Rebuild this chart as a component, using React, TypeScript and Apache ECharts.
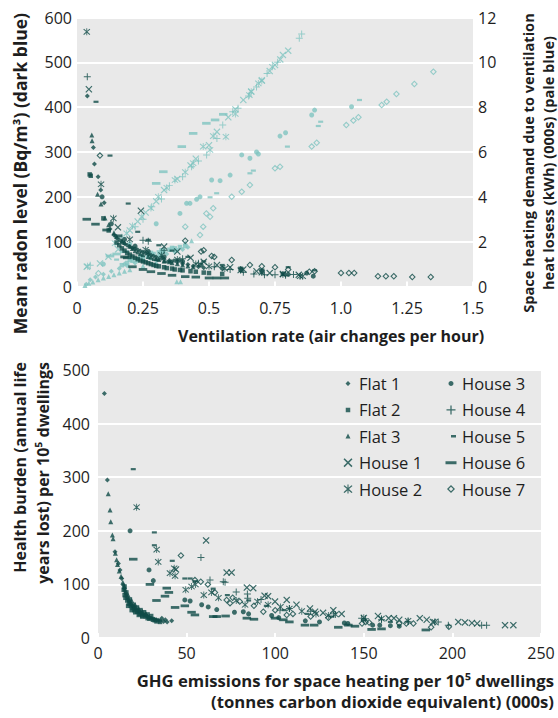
import React, { useEffect, useRef } from 'react';
import * as echarts from 'echarts';

// ---------- DATA ----------
// Top chart, dark series: mean radon level (Bq/m3) vs ventilation rate (ach)
const flat1Radon = [[0.039,425],[0.062,310],[0.066,273],[0.08,245],[0.09,215],[0.103,187],[0.125,128],[0.14,115],[0.16,104],[0.18,96],[0.2,89],[0.22,84],[0.24,79],[0.26,74],[0.28,70],[0.3,66],[0.33,61],[0.36,56],[0.4,51],[0.44,46],[0.48,42],[0.15,108],[0.17,100],[0.19,92],[0.21,86],[0.23,82],[0.25,77],[0.27,72],[0.29,68],[0.32,63],[0.35,58],[0.38,54],[0.42,49],[0.46,44]];
const flat2Radon = [[0.048,250],[0.052,247],[0.1,152],[0.12,125],[0.15,98],[0.17,85],[0.19,75],[0.21,67],[0.23,61],[0.25,56],[0.27,52],[0.29,48],[0.31,45],[0.34,41],[0.37,38],[0.4,36],[0.45,33],[0.5,30],[0.55,28],[0.16,92],[0.18,80],[0.2,71],[0.22,64],[0.24,58],[0.26,54],[0.28,50],[0.3,46],[0.33,43],[0.36,40],[0.39,37],[0.43,34],[0.48,31]];
const flat3Radon = [[0.056,338],[0.057,325],[0.078,206],[0.091,184],[0.106,153],[0.12,138],[0.14,120],[0.17,102],[0.2,90],[0.22,80],[0.24,73],[0.27,67],[0.3,62],[0.33,57],[0.36,53],[0.4,48],[0.44,44],[0.15,112],[0.18,98],[0.21,85],[0.23,77],[0.25,71],[0.28,65],[0.31,60],[0.35,55],[0.38,51],[0.42,46]];
const house1Radon = [[0.045,440],[0.155,132],[0.242,169],[0.33,89],[0.38,78],[0.43,64],[0.48,55],[0.53,48],[0.58,43],[0.63,38],[0.68,34],[0.73,30],[0.78,28],[0.84,26]];
const house2Radon = [[0.037,568],[0.091,228],[0.138,152],[0.2,105],[0.26,82],[0.32,70],[0.38,60],[0.45,50],[0.5,45],[0.56,40],[0.62,36],[0.7,31],[0.78,27],[0.845,23],[0.855,23]];
const house3Radon = [[0.095,200],[0.13,140],[0.18,105],[0.22,90],[0.27,78],[0.33,66],[0.4,56],[0.47,48],[0.55,41],[0.62,37],[0.7,33],[0.78,28],[0.8,27],[0.87,30],[0.895,23]];
const house4Radon = [[0.039,468],[0.25,103],[0.27,101],[0.33,80],[0.4,62],[0.46,52],[0.52,44],[0.58,38],[0.63,32],[0.67,28],[0.71,26],[0.75,26],[0.79,25],[0.82,27]];
const house5Radon = [[0.072,412],[0.125,292],[0.194,185],[0.23,122],[0.27,104],[0.31,92],[0.36,80],[0.42,66],[0.48,56],[0.55,48],[0.62,42],[0.7,38],[0.8,43],[0.9,36]];
const house6Radon = [[0.037,150],[0.07,139],[0.112,126],[0.156,113],[0.18,66],[0.19,64],[0.21,44],[0.25,38],[0.28,33],[0.32,29],[0.36,25],[0.41,22],[0.45,21],[0.5,19],[0.53,19],[0.56,19],[0.3,60],[0.34,55],[0.38,59]];
const house7Radon = [[0.087,292],[0.41,102],[0.47,78],[0.48,81],[0.51,68],[0.52,66],[0.586,59],[0.655,48],[0.7,45],[0.75,43],[0.8,38],[0.88,33],[0.9,34],[1.0,30],[1.03,30],[1.05,30],[1.14,23],[1.17,23],[1.2,23],[1.27,21],[1.34,21]];

// Top chart, pale series: space heating demand (kWh 000s) vs ventilation rate
const flat1Heat = [[0.035,0.1],[0.05,0.3],[0.07,0.42],[0.1,0.55],[0.13,0.68],[0.16,0.8],[0.19,0.93],[0.22,1.05],[0.25,1.15],[0.28,1.25],[0.31,1.35],[0.34,1.45],[0.37,1.55],[0.4,1.65],[0.42,1.75],[0.18,1.0],[0.23,1.15],[0.27,1.3],[0.32,1.45],[0.38,1.62]];
const flat2Heat = [[0.17,0.95],[0.19,1.05],[0.21,1.15],[0.23,1.22],[0.25,1.3],[0.27,1.38],[0.29,1.45],[0.31,1.52],[0.33,1.58],[0.35,1.64],[0.37,1.7],[0.39,1.76],[0.41,1.8],[0.2,1.2],[0.24,1.36],[0.28,1.5],[0.32,1.62],[0.36,1.72]];
const flat3Heat = [[0.03,0.05],[0.045,0.15],[0.06,0.2],[0.08,0.3],[0.1,0.38],[0.12,0.45],[0.14,0.52],[0.16,0.6],[0.18,0.68],[0.2,0.75],[0.25,0.92],[0.3,1.08],[0.378,0.21],[0.392,0.21],[0.41,1.95],[0.434,2.04]];
const house1Heat = [[0.037,0.88],[0.087,1.03],[0.119,1.33],[0.156,1.66],[0.2,2.5],[0.23,2.9],[0.26,3.3],[0.3,3.8],[0.33,4.3],[0.38,4.8],[0.43,5.4],[0.45,5.7],[0.5,6.3],[0.53,6.9],[0.573,7.55],[0.6,7.9],[0.63,8.32],[0.66,8.7],[0.7,9.2],[0.73,9.61],[0.75,9.88],[0.77,10.13],[0.78,10.33],[0.8,10.52]];
const house2Heat = [[0.04,0.9],[0.144,1.93],[0.188,2.37],[0.21,2.7],[0.245,3.11],[0.28,3.5],[0.308,4.0],[0.34,4.4],[0.371,4.75],[0.41,5.1],[0.44,5.5],[0.478,6.24],[0.504,6.09],[0.516,6.71],[0.564,6.68],[0.6,7.7],[0.653,8.54],[0.66,8.69],[0.687,9.06],[0.7,9.17],[0.74,9.8]];
const house3Heat = [[0.1,1.0],[0.2,1.9],[0.3,2.8],[0.39,3.26],[0.415,3.71],[0.428,3.71],[0.453,3.89],[0.466,4.0],[0.51,4.75],[0.542,4.72],[0.58,4.97],[0.624,5.87],[0.655,5.72],[0.68,6.0],[0.687,5.91],[0.769,6.71],[0.79,6.86],[0.889,7.65],[0.9,7.87],[1.04,8.02]];
const house4Heat = [[0.05,0.95],[0.17,2.2],[0.22,2.67],[0.25,3.0],[0.283,3.56],[0.32,3.9],[0.35,4.5],[0.4,4.9],[0.434,5.34],[0.46,5.6],[0.491,5.87],[0.53,6.6],[0.552,7.2],[0.59,7.8],[0.61,7.95],[0.65,8.5],[0.68,8.9],[0.72,9.5],[0.76,10.0],[0.842,11.07],[0.851,11.26]];
const house5Heat = [[0.15,1.2],[0.504,3.98],[0.529,4.16],[0.655,5.05],[0.668,5.17],[0.797,6.24],[0.914,7.16],[0.923,7.35],[1.07,8.32]];
const house6Heat = [[0.125,1.36],[0.15,1.45],[0.18,1.55],[0.3,4.6],[0.327,5.12],[0.397,6.24],[0.44,6.83],[0.49,7.28],[0.523,7.43],[0.554,7.68]];
const house7Heat = [[0.081,0.59],[0.41,2.67],[0.466,2.3],[0.478,2.67],[0.504,3.11],[0.49,3.26],[0.516,3.49],[0.586,4.0],[0.624,4.23],[0.655,4.53],[0.75,5.27],[0.769,5.34],[0.889,6.24],[0.908,6.41],[1.02,7.2],[1.047,7.4],[1.066,7.55],[1.154,8.1],[1.173,8.24],[1.21,8.59],[1.278,9.03],[1.35,9.58]];

// Bottom chart: health burden (life years lost per 1e5 dwellings) vs GHG emissions (t CO2e, 000s)
const flat1Burden = [[3.6,456],[5.3,295],[9.6,161],[11.5,139],[12.4,127],[13.4,111],[14.3,99],[15.2,88],[16,80],[17,72],[18,66],[19.5,60],[21,55],[22.5,51],[24,47],[26,43],[28,40],[30,37],[32,35],[34,33],[36,37],[38,34],[41.6,32],[14.8,93],[15.6,84],[16.5,76],[17.5,69],[18.5,63],[20,58],[21.5,53],[23,49],[25,45],[27,42],[29,38],[31,36],[33,34],[35,32],[37,31],[39,30]];
const flat2Burden = [[14.5,90],[15,80],[15.5,75],[16.5,70],[17.5,64],[18.5,60],[19.5,56],[20.5,52],[22,49],[23.5,45],[25,42],[27,40],[29,36],[31,34],[33,31],[15,96],[16,85],[18,72],[20,62],[22,57],[24,52],[26,48],[28,44],[30,41],[17,60],[19,52],[21,48],[23,43],[25,40],[28,37],[32,33],[35,30]];
const flat3Burden = [[5.8,269],[6.8,239],[7.2,217],[8.1,192],[8.5,185],[9.8,158],[10.5,146],[11,137],[12,125],[13,115],[14,104],[15,95],[17,80],[19,70],[21,62],[23,55],[25,50],[27,46]];
const house1Burden = [[44,128],[61,182],[72.6,122],[75.4,122],[84,94],[87.6,93],[94,79],[96,78],[99.9,68],[106.5,71],[112,62],[119.6,55],[122.5,49],[127,47],[132.8,52],[137.5,45],[158,41],[164,37],[167,37],[170,34],[181.6,37],[185.5,34],[189,30],[203.3,30],[207.1,29],[211,28],[214,27],[229.7,24],[234.4,24]];
const house2Burden = [[21.8,244],[33.1,165],[34,142],[40.6,121],[43,130],[43.5,116],[49.5,90],[52.8,96],[55,100],[59.7,80],[64,85],[68,75],[78,70],[83,62],[90,68],[96,62],[103,58],[108,55],[115,50],[123,45],[130,42],[134,44],[150,38],[160,36],[175,32],[190,30]];
const house3Burden = [[18.1,200],[28.8,127],[31.2,107],[49,71],[52,69],[58.5,62],[62.2,58],[67,53],[77,48],[82,49],[85,45],[98,42],[102,38],[117,32],[125,30],[139,28],[141,27],[155,24],[159,24],[165,23],[170,22]];
const house4Burden = [[58.1,150],[63.2,108],[70.7,105],[71.7,104],[78,86],[84.3,82],[84.5,74],[92,72],[102.7,52],[108,55],[120,50],[133,45],[148.8,37],[151,36],[160,34],[175,31],[192,30],[197.7,24],[216.5,24],[219.3,24]];
const house5Burden = [[19.9,315],[31.8,197],[31.8,173],[41.9,144],[49,111],[52,111],[55,106],[65,92],[73,80],[85,70],[95,60],[105,52],[118,45],[132,40],[150,33],[165,30]];
const house6Burden = [[19.9,147],[29.3,100],[33,70],[37.8,78],[38.8,93],[40,85],[43.5,57],[49,60],[52.8,48],[54.7,43],[65,40],[67,40],[72,41],[84,37],[88,35],[99.9,37],[104.6,34],[108,30],[116.8,24],[122,24],[135.6,20],[141.3,24],[145,22],[154.4,16],[160,17],[185,15]];
const house7Burden = [[46.8,154],[54.7,108],[58,105],[62,100],[66,85],[72.6,71],[74.5,65],[76,75],[80,68],[88,60],[93.3,49],[100,52],[106.5,43],[110,45],[120,40],[130,38],[149,27],[151,30],[153,29],[170,27],[174,27],[178,27],[188,20],[198,21]];

const legendCol1 = ['Flat 1', 'Flat 2', 'Flat 3', 'House 1', 'House 2'];
const legendCol2 = ['House 3', 'House 4', 'House 5', 'House 6', 'House 7'];

// ---------- STYLE ----------
const DARK = '#0f4b47';
const PALE = '#80c4c1';
const TXT = '#1e1e1e';
const FONT = '"Open Sans", "DejaVu Sans", sans-serif';
const BG = '#e9e9e9';

type Pt = [number, number];
const X_SHAPE: Pt[][] = [[[0,1.2],[1.2,0],[5,3.8],[8.8,0],[10,1.2],[6.2,5],[10,8.8],[8.8,10],[5,6.2],[1.2,10],[0,8.8],[3.8,5]]];
const PLUS_SHAPE: Pt[][] = [[[4.3,0],[5.7,0],[5.7,4.3],[10,4.3],[10,5.7],[5.7,5.7],[5.7,10],[4.3,10],[4.3,5.7],[0,5.7],[0,4.3],[4.3,4.3]]];
const AST_SHAPE: Pt[][] = [[[0,1.6],[1.1,0.6],[5,4.1],[8.9,0.6],[10,1.6],[6.1,5],[10,8.4],[8.9,9.4],[5,5.9],[1.1,9.4],[0,8.4],[3.9,5]], [[4.4,0],[5.6,0],[5.6,10],[4.4,10]]];
const HDIAM_SHAPE: Pt[][] = [[[5,0],[10,5],[5,10],[0,5]], [[5,2.2],[2.2,5],[5,7.8],[7.8,5]]];
const DIAM_SHAPE: Pt[][] = [[[5,0],[10,5],[5,10],[0,5]]];
const SQ_SHAPE: Pt[][] = [[[0,0],[10,0],[10,10],[0,10]]];
const TRI_SHAPE: Pt[][] = [[[5,0],[10,9],[0,9]]];
const CIRC_SHAPE: Pt[][] = [Array.from({ length: 16 }, (_, i) => [5 + 5 * Math.cos((i / 16) * 2 * Math.PI), 5 + 5 * Math.sin((i / 16) * 2 * Math.PI)] as Pt)];

function pathOf(polys: Pt[][], s = 1, ox = 0, oy = 0): string {
  return polys
    .map((p) => 'M' + p.map(([x, y]) => `${(ox + x * s).toFixed(2)},${(oy + y * s).toFixed(2)}`).join('L') + 'Z')
    .join(' ');
}
const PAD = 'M0,0h0.01v0.01h-0.01Z M12,12h-0.01v-0.01h0.01Z ';
function legendIcon(polys: Pt[][], w: number, h: number, cx = 6, cy = 6): string {
  const parts = polys
    .map((p) => 'M' + p.map(([x, y]) => `${(cx - w / 2 + (x * w) / 10).toFixed(2)},${(cy - h / 2 + (y * h) / 10).toFixed(2)}`).join('L') + 'Z')
    .join(' ');
  return 'path://' + PAD + parts;
}

const TYPES = [
  { name: 'Flat 1', symbol: 'diamond', size: 5, icon: legendIcon(DIAM_SHAPE, 5, 5), radon: flat1Radon, heat: flat1Heat, burden: flat1Burden },
  { name: 'Flat 2', symbol: 'rect', size: 4.5, icon: legendIcon(SQ_SHAPE, 4.5, 4.5), radon: flat2Radon, heat: flat2Heat, burden: flat2Burden },
  { name: 'Flat 3', symbol: 'triangle', size: 5, icon: legendIcon(TRI_SHAPE, 5, 5.5), radon: flat3Radon, heat: flat3Heat, burden: flat3Burden },
  { name: 'House 1', symbol: 'path://' + pathOf(X_SHAPE), size: 7, icon: legendIcon(X_SHAPE, 9, 9), radon: house1Radon, heat: house1Heat, burden: house1Burden },
  { name: 'House 2', symbol: 'path://' + pathOf(AST_SHAPE), size: 7, icon: legendIcon(AST_SHAPE, 9, 9), radon: house2Radon, heat: house2Heat, burden: house2Burden },
  { name: 'House 3', symbol: 'circle', size: 5, icon: legendIcon(CIRC_SHAPE, 5, 5), radon: house3Radon, heat: house3Heat, burden: house3Burden },
  { name: 'House 4', symbol: 'path://' + pathOf(PLUS_SHAPE), size: 7, icon: legendIcon(PLUS_SHAPE, 9, 9), radon: house4Radon, heat: house4Heat, burden: house4Burden },
  { name: 'House 5', symbol: 'rect', size: [5, 2.2], icon: legendIcon(SQ_SHAPE, 5, 2.4, 8.5, 6), radon: house5Radon, heat: house5Heat, burden: house5Burden },
  { name: 'House 6', symbol: 'rect', size: [8.5, 2.8], icon: legendIcon(SQ_SHAPE, 11, 3, 6, 6), radon: house6Radon, heat: house6Heat, burden: house6Burden },
  { name: 'House 7', symbol: 'path://' + pathOf(HDIAM_SHAPE), size: 7, icon: legendIcon(HDIAM_SHAPE, 8, 8), radon: house7Radon, heat: house7Heat, burden: house7Burden },
];

const labelStyle = { fontSize: 16, color: TXT, fontFamily: FONT };

function txt(text: string, x: number, y: number, align: string, rotate = false, size = 16) {
  return {
    type: 'text',
    x,
    y,
    rotation: rotate ? Math.PI / 2 : 0,
    silent: true,
    style: {
      text,
      font: `bold ${size}px ${FONT}`,
      fill: TXT,
      align,
      textAlign: align,
      verticalAlign: 'middle',
      textVerticalAlign: 'middle',
    },
  };
}

function buildOption() {
  const series: any[] = [];
  TYPES.forEach((t) => {
    series.push({
      type: 'scatter', name: t.name + ' (heating)', xAxisIndex: 0, yAxisIndex: 1, data: t.heat,
      symbol: t.symbol, symbolSize: t.size, itemStyle: { color: PALE }, silent: true, z: 2,
    });
  });
  TYPES.forEach((t) => {
    series.push({
      type: 'scatter', name: t.name + ' (radon)', xAxisIndex: 0, yAxisIndex: 0, data: t.radon,
      symbol: t.symbol, symbolSize: t.size, itemStyle: { color: DARK }, silent: true, z: 3,
    });
  });
  TYPES.forEach((t) => {
    series.push({
      type: 'scatter', name: t.name, xAxisIndex: 1, yAxisIndex: 2, data: t.burden,
      symbol: t.symbol, symbolSize: t.size, itemStyle: { color: DARK }, silent: true, z: 3,
    });
  });

  const iconOf = (n: string) => TYPES.find((t) => t.name === n)!.icon;
  const legendBase = {
    orient: 'vertical', top: 375, itemWidth: 12, itemHeight: 12, itemGap: 9.4, padding: 0,
    selectedMode: false, textStyle: { ...labelStyle, fontSize: 16.5 },
  };

  const xTick = { show: true, inside: true, length: 5, lineStyle: { color: '#ffffff', width: 2 } };

  return {
    animation: false,
    backgroundColor: '#ffffff',
    textStyle: { fontFamily: FONT },
    grid: [
      { left: 77, top: 17.5, width: 396, height: 269, show: true, backgroundColor: BG, borderWidth: 0 },
      { left: 98, top: 370, width: 443, height: 268, show: true, backgroundColor: BG, borderWidth: 0 },
    ],
    xAxis: [
      {
        gridIndex: 0, type: 'value', min: 0, max: 1.5, interval: 0.25,
        axisLine: { show: false }, axisTick: xTick, splitLine: { show: false },
        axisLabel: { ...labelStyle, margin: 13, formatter: (v: number) => (v === 0 ? '0' : v === 1 ? '1.0' : String(v)) },
      },
      {
        gridIndex: 1, type: 'value', min: 0, max: 250, interval: 50,
        axisLine: { show: false }, axisTick: xTick, splitLine: { show: false },
        axisLabel: { ...labelStyle, margin: 7 },
      },
    ],
    yAxis: [
      {
        gridIndex: 0, type: 'value', position: 'left', min: 0, max: 600, interval: 100,
        axisLine: { show: false }, axisTick: { show: false },
        splitLine: { show: true, lineStyle: { color: '#ffffff', width: 2 } },
        axisLabel: { ...labelStyle, margin: 5 },
      },
      {
        gridIndex: 0, type: 'value', position: 'right', min: 0, max: 12, interval: 2,
        axisLine: { show: false }, axisTick: { show: false }, splitLine: { show: false },
        axisLabel: { ...labelStyle, margin: 5 },
      },
      {
        gridIndex: 1, type: 'value', position: 'left', min: 0, max: 500, interval: 100,
        axisLine: { show: false }, axisTick: { show: false },
        splitLine: { show: true, lineStyle: { color: '#ffffff', width: 2 } },
        axisLabel: { ...labelStyle, margin: 8 },
      },
    ],
    legend: [
      { ...legendBase, left: 342, data: legendCol1.map((n) => ({ name: n, icon: iconOf(n) })) },
      { ...legendBase, left: 445, data: legendCol2.map((n) => ({ name: n, icon: iconOf(n) })) },
    ],
    graphic: [
      txt('Mean radon level (Bq/m³) (dark blue)', 20, 13, 'right', true, 17.5),
      txt('Space heating demand due to ventilation', 528, 163, 'center', true, 14.6),
      txt('heat losess (kWh) (000s) (pale blue)', 548, 163, 'center', true, 14.6),
      txt('Ventilation rate (air changes per hour)', 178, 336, 'left', false, 16),
      txt('Health burden (annual life', 20, 362, 'right', true, 16),
      txt('years lost) per 10⁵ dwellings', 43, 362, 'right', true, 16),
      txt('GHG emissions for space heating per 10⁵ dwellings', 554, 680, 'right', false, 16.7),
      txt('(tonnes carbon dioxide equivalent) (000s)', 554, 701, 'right', false, 16.7),
    ],
    series,
  };
}

export default function App() {
  const ref = useRef<HTMLDivElement>(null);
  useEffect(() => {
    if (!ref.current) return;
    const chart = echarts.init(ref.current, undefined, { renderer: 'svg' });
    chart.setOption(buildOption() as any);
    return () => chart.dispose();
  }, []);
  return <div ref={ref} style={{ position: 'absolute', left: 0, top: 0, width: 558, height: 718 }} />;
}
